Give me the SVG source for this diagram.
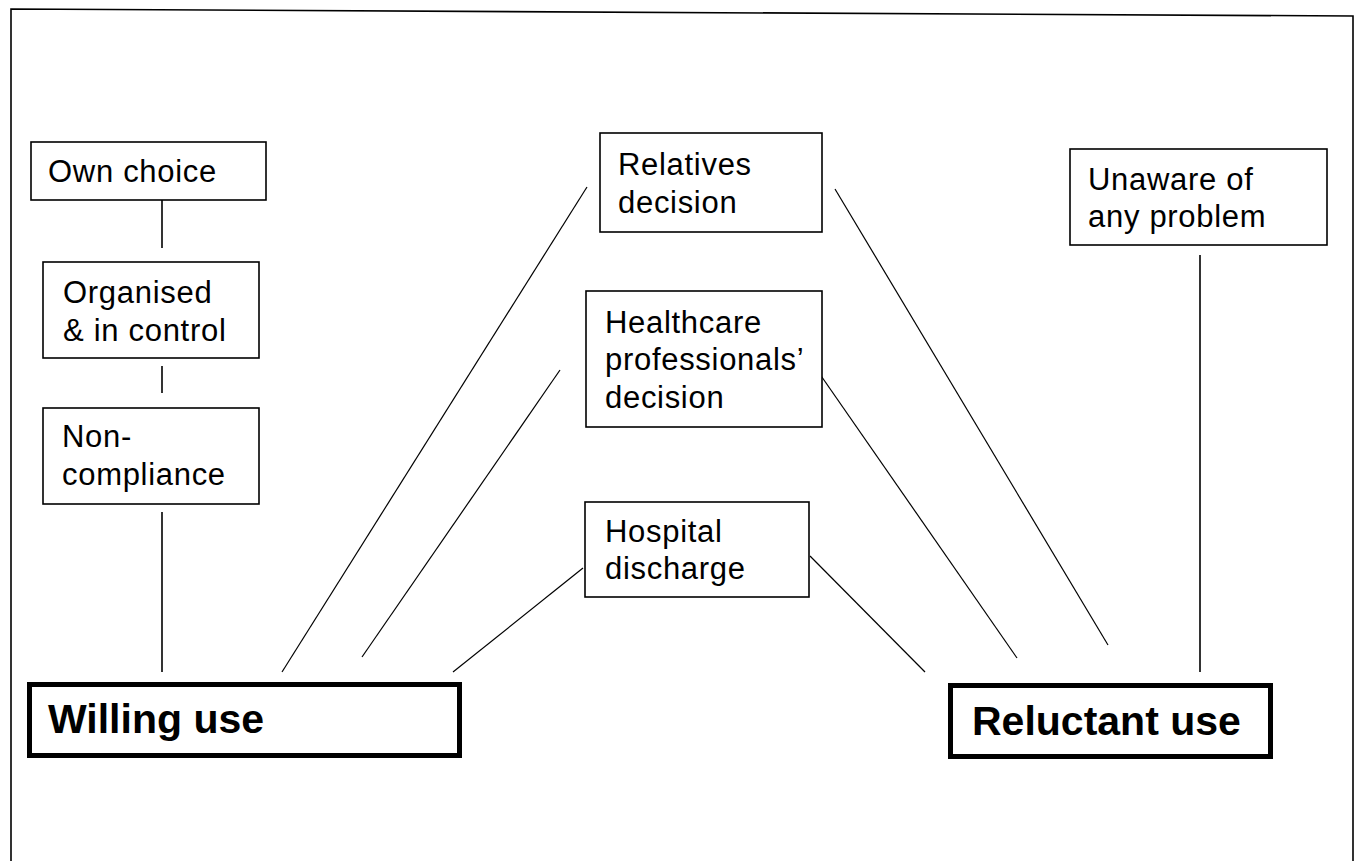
<svg xmlns="http://www.w3.org/2000/svg" width="1356" height="861" viewBox="0 0 1356 861">
<style>
  .box { fill: #ffffff; stroke: #000000; stroke-width: 1.6; }
  .main { fill: #ffffff; stroke: #000000; stroke-width: 5; }
  .t { font-family: "Liberation Sans", Arial, sans-serif; font-size: 31px; fill: #000000; letter-spacing: 0.7px; }
  .tb { font-family: "Liberation Sans", Arial, sans-serif; font-size: 41px; font-weight: bold; fill: #000000; }
  .c { stroke: #000000; stroke-width: 1.2; fill: none; }
  .cv { stroke: #000000; stroke-width: 1.6; fill: none; }
</style>
<rect width="1356" height="861" fill="#ffffff"/>
<path d="M11,861 L11,9 L1353,16 L1353,861" fill="none" stroke="#000000" stroke-width="1.6"/>
<g id="connectors">
  <line class="cv" x1="162" y1="200" x2="162" y2="248"/>
  <line class="cv" x1="162" y1="366" x2="162" y2="393"/>
  <line class="cv" x1="162" y1="512" x2="162" y2="672"/>
  <line class="cv" x1="1200" y1="255" x2="1200" y2="672"/>
  <line class="c" x1="587" y1="187" x2="282" y2="672"/>
  <line class="c" x1="560" y1="370" x2="362" y2="657"/>
  <line class="c" x1="583" y1="568" x2="453" y2="672"/>
  <line class="c" x1="835" y1="189" x2="1108" y2="645"/>
  <line class="c" x1="808" y1="357" x2="1017" y2="658"/>
  <line class="c" x1="810" y1="556" x2="925" y2="672"/>
</g>
<g id="own-choice">
  <rect class="box" x="31" y="142" width="235" height="58"/>
  <text class="t" x="48" y="182">Own choice</text>
</g>
<g id="organised">
  <rect class="box" x="43" y="262" width="216" height="96"/>
  <text class="t" x="63" y="303">Organised</text>
  <text class="t" x="63" y="341">&amp; in control</text>
</g>
<g id="non-compliance">
  <rect class="box" x="43" y="408" width="216" height="96"/>
  <text class="t" x="62" y="447">Non-</text>
  <text class="t" x="62" y="485">compliance</text>
</g>
<g id="relatives">
  <rect class="box" x="600" y="133" width="222" height="99"/>
  <text class="t" x="618" y="175">Relatives</text>
  <text class="t" x="618" y="213">decision</text>
</g>
<g id="healthcare">
  <rect class="box" x="586" y="291" width="236" height="136"/>
  <text class="t" x="605" y="333">Healthcare</text>
  <text class="t" x="605" y="370">professionals’</text>
  <text class="t" x="605" y="408">decision</text>
</g>
<g id="hospital">
  <rect class="box" x="585" y="502" width="224" height="95"/>
  <text class="t" x="605" y="542">Hospital</text>
  <text class="t" x="605" y="579">discharge</text>
</g>
<g id="unaware">
  <rect class="box" x="1070" y="149" width="257" height="96"/>
  <text class="t" x="1088" y="190">Unaware of</text>
  <text class="t" x="1088" y="227">any problem</text>
</g>
<g id="willing-use">
  <rect class="main" x="29.5" y="684.5" width="430" height="71"/>
  <text class="tb" x="48" y="733">Willing use</text>
</g>
<g id="reluctant-use">
  <rect class="main" x="950.5" y="685.5" width="320" height="71"/>
  <text class="tb" x="972" y="735">Reluctant use</text>
</g>
</svg>
